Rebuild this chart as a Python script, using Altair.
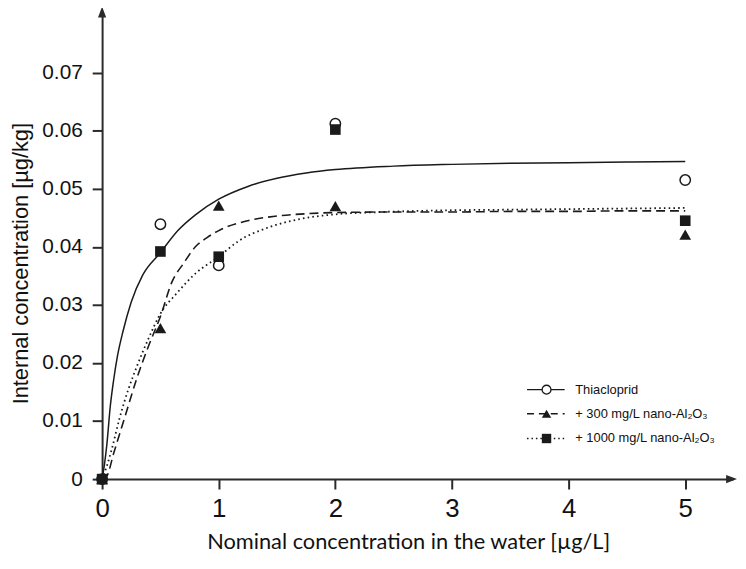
import altair as alt
import pandas as pd

# ---------------- data ----------------
nominal = [0, 0.5, 1, 2, 5]
thiacloprid = [0, 0.0439, 0.0368, 0.0612, 0.0515]
nano300 = [0, 0.026, 0.0471, 0.047, 0.0421]
nano1000 = [0, 0.0392, 0.0383, 0.0602, 0.0445]

fit_thia_x = [0, 0.02, 0.04, 0.07, 0.1, 0.13, 0.18, 0.25, 0.35, 0.5, 0.65, 0.8,
              1.0, 1.25, 1.5, 1.75, 2.0, 2.5, 3.0, 3.5, 4.0, 4.5, 5.0]
fit_thia_y = [0, 0.0025, 0.0058, 0.0125, 0.0172, 0.021, 0.0255, 0.0305, 0.0352,
              0.039, 0.0428, 0.0455, 0.0482, 0.0504, 0.0518, 0.0527, 0.0533,
              0.0539, 0.0542, 0.0544, 0.0545, 0.0546, 0.0547]

fit_300_x = [0, 0.04, 0.1, 0.2, 0.3, 0.4, 0.5, 0.6, 0.7, 0.8, 0.9, 1.0, 1.25,
             1.5, 1.75, 2.0, 2.5, 3.0, 3.5, 4.0, 4.5, 5.0]
fit_300_y = [0, 0.0005, 0.0045, 0.011, 0.0175, 0.023, 0.028, 0.034, 0.0372,
             0.04, 0.0416, 0.0428, 0.0445, 0.0453, 0.0457, 0.0459, 0.046, 0.046,
             0.0461, 0.0461, 0.0462, 0.0462]

fit_1000_x = [0, 0.04, 0.085, 0.15, 0.226, 0.3, 0.4, 0.5, 0.64, 0.8, 1.0, 1.17,
              1.42, 1.7, 2.0, 2.4, 3.0, 3.5, 4.0, 4.5, 5.0]
fit_1000_y = [0, 0.0022, 0.0053, 0.0105, 0.0155, 0.0195, 0.0243, 0.0285, 0.032,
              0.0354, 0.0383, 0.041, 0.0433, 0.0448, 0.0456, 0.046, 0.0463,
              0.0464, 0.0465, 0.0466, 0.0467]

x_ticks = [0, 1, 2, 3, 4, 5]
y_ticks = [0, 0.01, 0.02, 0.03, 0.04, 0.05, 0.06, 0.07]
legend_labels = ["Thiacloprid", "+ 300 mg/L nano-Al\u2082O\u2083", "+ 1000 mg/L nano-Al\u2082O\u2083"]

x_title = "Nominal concentration in the water [\u00b5g/L]"
y_title = "Internal concentration [\u00b5g/kg]"

# ---------------- styling ----------------
INK = "#1a1a1a"
AX = "#2a2a2a"
W, H = 637, 469
X_DOMAIN = [0, 5.41]
Y_DOMAIN = [0, 0.08]

x_axis = alt.Axis(values=x_ticks, title=x_title, grid=False, domainColor=AX, domainWidth=2,
                  tickColor=AX, tickWidth=2, tickSize=10, labelFont="Liberation Sans",
                  labelFontSize=26, labelColor="#111", labelPadding=7, labelFlush=False,
                  labelOverlap=False, titleFont="Lato", titleFontSize=22,
                  titleFontWeight="normal", titleColor="#111", titleX=309, titleY=70,
                  titleAlign="center", titleBaseline="alphabetic")
y_axis = alt.Axis(values=y_ticks, format=".2~f", title=y_title, grid=False, domainColor=AX,
                  domainWidth=2, tickColor=AX, tickWidth=2, tickSize=10,
                  labelFont="Liberation Sans", labelFontSize=21, labelColor="#111",
                  labelPadding=10, labelOverlap=False, labelFlush=False,
                  titleFont="Liberation Sans", titleFontSize=22, titleFontWeight="normal",
                  titleColor="#111", titleAngle=-90, titleX=-75, titleY=251,
                  titleAlign="center", titleBaseline="alphabetic")

X = alt.X("x:Q", scale=alt.Scale(domain=X_DOMAIN, nice=False, zero=False), axis=x_axis)
Y = alt.Y("y:Q", scale=alt.Scale(domain=Y_DOMAIN, nice=False, zero=False), axis=y_axis)


def df(xs, ys):
    return pd.DataFrame({"x": xs, "y": ys})


layers = []
# fitted curves
layers.append(alt.Chart(df(fit_thia_x, fit_thia_y)).mark_line(
    color=INK, strokeWidth=1.5, interpolate="monotone").encode(x=X, y=Y))
layers.append(alt.Chart(df(fit_300_x, fit_300_y)).mark_line(
    color=INK, strokeWidth=1.6, strokeDash=[9, 5], interpolate="monotone").encode(x=X, y=Y))
layers.append(alt.Chart(df(fit_1000_x, fit_1000_y)).mark_line(
    color=INK, strokeWidth=1.8, strokeDash=[1.6, 3.2], interpolate="monotone").encode(x=X, y=Y))

# measured points
layers.append(alt.Chart(df(nominal, thiacloprid)).mark_point(
    shape="circle", size=110, filled=False, fill="white", fillOpacity=1, stroke=INK,
    strokeWidth=1.5, opacity=1).encode(x=X, y=Y))
layers.append(alt.Chart(df(nominal, nano300)).mark_point(
    shape="triangle-up", size=140, filled=True, color=INK, opacity=1).encode(x=X, y=Y))
layers.append(alt.Chart(df(nominal, nano1000)).mark_point(
    shape="square", size=115, filled=True, color=INK, opacity=1).encode(x=X, y=Y))

# axis arrow heads
one = pd.DataFrame({"a": [0]})
layers.append(alt.Chart(one).mark_point(
    shape="M0,-1L0.75,1L-0.75,1Z", size=121, filled=True, color=AX, opacity=1
).encode(x=alt.value(0), y=alt.value(-2.5)))
layers.append(alt.Chart(one).mark_point(
    shape="M1,0L-1,0.75L-1,-0.75Z", size=121, filled=True, color=AX, opacity=1
).encode(x=alt.value(W - 1.5), y=alt.value(H)))

# legend (drawn inside the plot, lower right)
leg_rows = [378.7, 403.0, 428.0]
leg_dash = [None, [7, 5], [1.5, 3]]
leg_shape = ["circle", "triangle-up", "square"]
for i, label in enumerate(legend_labels):
    rule_kw = dict(color=INK, strokeWidth=1.3)
    if leg_dash[i] is not None:
        rule_kw["strokeDash"] = leg_dash[i]
    layers.append(alt.Chart(one).mark_rule(**rule_kw).encode(
        x=alt.value(429), x2=alt.value(467), y=alt.value(leg_rows[i])))
    if leg_shape[i] == "circle":
        pt = alt.Chart(one).mark_point(shape="circle", size=80, filled=False, fill="white",
                                       fillOpacity=1, stroke=INK, strokeWidth=1.3, opacity=1)
    else:
        pt = alt.Chart(one).mark_point(shape=leg_shape[i], size=90, filled=True,
                                       color=INK, opacity=1)
    layers.append(pt.encode(x=alt.value(448.7), y=alt.value(leg_rows[i])))
    layers.append(alt.Chart(pd.DataFrame({"label": [label]})).mark_text(
        align="left", baseline="middle", font="Liberation Sans", fontSize=13, color="#111"
    ).encode(x=alt.value(477.7), y=alt.value(leg_rows[i]), text="label:N"))

chart = alt.layer(*layers).properties(
    width=W, height=H,
    padding={"left": 95, "top": 4, "right": 5, "bottom": 75},
    autosize=alt.AutoSizeParams(type="none"),
    background="white",
).configure_view(stroke=None)

chart.save("out.html", embed_options={"renderer": "svg", "actions": False})
